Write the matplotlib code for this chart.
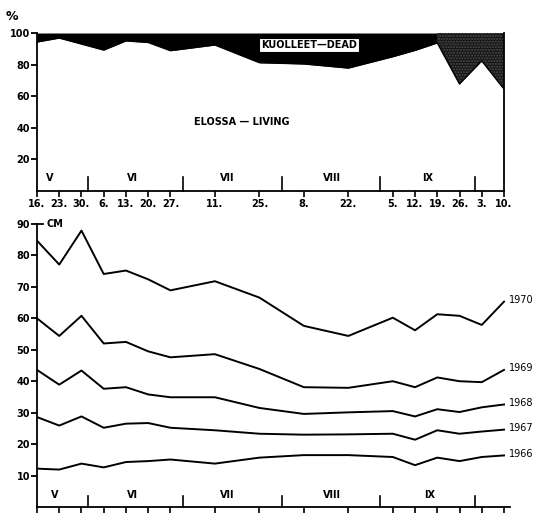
import matplotlib
matplotlib.use("Agg")
import matplotlib.pyplot as plt
import numpy as np

# days since 16 May
days = [0, 7, 14, 21, 28, 35, 42, 56, 70, 84, 98, 112, 119, 126, 133, 140, 147]
date_labels = ["16.", "23.", "30.", "6.", "13.", "20.", "27.", "11.", "25.", "8.",
               "22.", "5.", "12.", "19.", "26.", "3.", "10."]
month_bounds = [16, 46, 77, 108, 138]
month_names = ["V", "VI", "VII", "VIII", "IX"]
month_centers_top = [4, 30, 60, 93, 123]
month_centers_bot = [5.5, 30, 60, 93, 123.5]

living_pct = [94.3, 96.8, 93.0, 89.2, 95.0, 94.0, 88.8, 92.4, 81.2, 80.4, 77.8,
              85.0, 89.0, 93.7, 67.7, 82.3, 64.5]

years = ["1970", "1969", "1968", "1967", "1966"]
len_1970 = [84.7, 77.1, 87.9, 74.1, 75.2, 72.4, 68.9, 71.8, 66.6, 57.6, 54.4,
            60.2, 56.2, 61.3, 60.8, 57.9, 65.3]
len_1969 = [60.0, 54.4, 60.8, 52.0, 52.5, 49.5, 47.6, 48.6, 43.9, 38.1, 37.9,
            40.0, 38.1, 41.2, 40.0, 39.7, 43.6]
len_1968 = [43.6, 38.9, 43.4, 37.6, 38.1, 35.8, 34.9, 34.9, 31.5, 29.6, 30.1,
            30.5, 28.8, 31.1, 30.2, 31.7, 32.6]
len_1967 = [28.6, 25.9, 28.8, 25.2, 26.5, 26.7, 25.2, 24.4, 23.3, 23.0, 23.1,
            23.3, 21.4, 24.4, 23.3, 24.0, 24.6]
len_1966 = [12.2, 11.9, 13.8, 12.6, 14.3, 14.6, 15.1, 13.8, 15.7, 16.5, 16.5,
            15.9, 13.3, 15.7, 14.6, 15.9, 16.4]
series = [len_1970, len_1969, len_1968, len_1967, len_1966]

W, H = 533, 515
fig = plt.figure(figsize=(W / 100, H / 100), dpi=100)
FONT = dict(family="DejaVu Sans", weight="bold", size=7)

def frac(x0, y0, x1, y1):
    return [x0 / W, 1 - y1 / H, (x1 - x0) / W, (y1 - y0) / H]

# ---------------- top panel ----------------
ax1 = fig.add_axes(frac(37, 33, 504, 191))
d = np.array(days, float)
lv = np.array(living_pct)
ax1.fill_between(d, lv, 100, where=d <= 126, color="black", lw=0, interpolate=True)
ax1.fill_between(d, lv, 100, where=d >= 126, facecolor="#141414", edgecolor="#4f4f4f",
                 hatch="......", lw=0, interpolate=True)
ax1.plot(d, lv, color="black", lw=1.0)
ax1.set_xlim(0, 147)
ax1.set_ylim(0, 100)
ax1.spines["top"].set_visible(False)
for s in ["left", "bottom", "right"]:
    ax1.spines[s].set_linewidth(1.3)
ax1.set_yticks([20, 40, 60, 80, 100])
ax1.set_yticklabels(["20", "40", "60", "80", "100"], **FONT)
ax1.tick_params(axis="y", direction="out", length=4, width=1.3, pad=1)
ax1.set_xticks(days)
ax1.set_xticklabels(date_labels, **FONT)
ax1.tick_params(axis="x", direction="out", length=4, width=1.2, pad=2)
for mb in month_bounds:
    ax1.plot([mb, mb], [0, 9], color="black", lw=1.2, clip_on=False)
for mc, mn in zip(month_centers_top, month_names):
    ax1.text(mc, 8, mn, ha="center", va="center", **FONT)
ax1.text(85.6, 92.4, "KUOLLEET\u2014DEAD", ha="center", va="center",
         bbox=dict(boxstyle="square,pad=0.2", fc="white", ec="black", lw=0.8), **FONT)
ax1.text(64.5, 43.7, "ELOSSA \u2014 LIVING", ha="center", va="center", **FONT)
fig.text(12 / W, 1 - 16 / H, "%", ha="center", va="center",
         family="DejaVu Sans", weight="bold", size=9)

# ---------------- bottom panel ----------------
xmax_b = 147 * (510 - 37) / (504 - 37)
ax2 = fig.add_axes(frac(37, 224, 510, 507))
for vals in series:
    ax2.plot(days, vals, color="black", lw=1.4)
ax2.set_xlim(0, xmax_b)
ax2.set_ylim(0, 90)
ax2.spines["top"].set_visible(False)
ax2.spines["right"].set_visible(False)
for s in ["left", "bottom"]:
    ax2.spines[s].set_linewidth(1.3)
ax2.set_yticks([10, 20, 30, 40, 50, 60, 70, 80, 90])
ax2.set_yticklabels([str(v) for v in range(10, 100, 10)], **FONT)
ax2.tick_params(axis="y", direction="out", length=4, width=1.3, pad=1)
ax2.set_xticks(days)
ax2.set_xticklabels([])
ax2.tick_params(axis="x", direction="out", length=4, width=1.2)
for mb in month_bounds:
    ax2.plot([mb, mb], [0, 3.4], color="black", lw=1.2, clip_on=False)
for mc, mn in zip(month_centers_bot, month_names):
    ax2.text(mc, 3.7, mn, ha="center", va="center", **FONT)
ax2.plot([0, 2], [90, 90], color="black", lw=1.3, clip_on=False)
ax2.text(3, 90, "CM", ha="left", va="center", **FONT)
for yr, vals in zip(years, series):
    ax2.text(148.5, vals[-1] + 0.6, yr, ha="left", va="center",
             family="DejaVu Sans", size=7)

fig.savefig("out.png", dpi=100)
